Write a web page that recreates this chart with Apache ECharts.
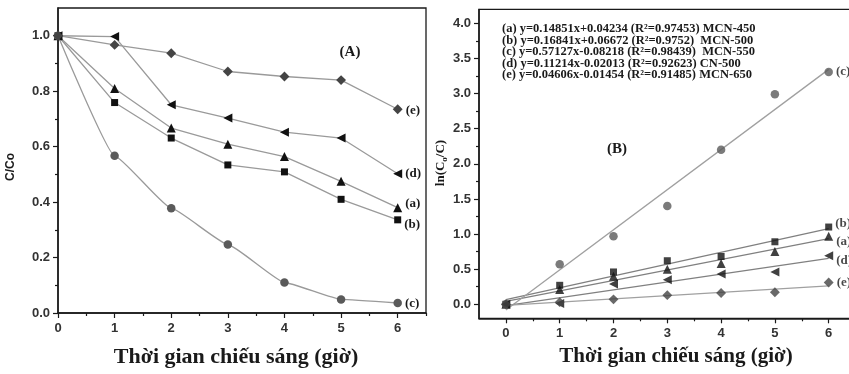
<!DOCTYPE html>
<html>
<head>
<meta charset="utf-8">
<script src="https://cdn.jsdelivr.net/npm/echarts@6/dist/echarts.min.js"></script>
<style>
  html, body { margin: 0; padding: 0; background: #fff; }
  #chart { width: 849px; height: 374px; }
</style>
</head>
<body>
<div id="chart"></div>
<script>
// Irradiation time (hours)
const hours = [0, 1, 2, 3, 4, 5, 6];

// Panel A: remaining fraction C/Co
const ratioA = [1.0, 0.810, 0.667, 0.609, 0.564, 0.475, 0.380];
const ratioB = [1.0, 0.759, 0.631, 0.534, 0.509, 0.410, 0.336];
const ratioC = [1.0, 0.567, 0.378, 0.247, 0.110, 0.049, 0.036];
const ratioD = [1.0, 0.997, 0.751, 0.703, 0.652, 0.631, 0.502];
const ratioE = [1.0, 0.967, 0.937, 0.871, 0.853, 0.840, 0.735];

// Panel B: ln(Co/C)
const lnA = [0, 0.21, 0.40, 0.50, 0.58, 0.75, 0.97];
const lnB = [0, 0.27, 0.46, 0.62, 0.68, 0.89, 1.10];
const lnC = [0, 0.57, 0.97, 1.40, 2.20, 2.99, 3.31];
const lnD = [0, 0.01, 0.29, 0.35, 0.43, 0.46, 0.69];
const lnE = [0, 0.03, 0.07, 0.13, 0.16, 0.17, 0.31];

// Linear fits of ln(Co/C) against time
const fitKeys = ['a', 'b', 'c', 'd', 'e'];
const fitSlope = [0.14851, 0.16841, 0.57127, 0.11214, 0.04606];
const fitIntercept = [0.04234, 0.06672, -0.08218, -0.02013, -0.01454];
const fitR2 = ['0.97453', '0.9752', '0.98439', '0.92623', '0.91485'];
const sampleNames = ['MCN-450', 'MCN-500', 'MCN-550', 'CN-500', 'MCN-650'];
const nameGap = [' ', '  ', '  ', ' ', ' '];

// Tick positions
const xMajor = [0, 1, 2, 3, 4, 5, 6];
const xMinor = [0.5, 1.5, 2.5, 3.5, 4.5, 5.5, 6.5];
const yMajorA = [0, 0.2, 0.4, 0.6, 0.8, 1.0];
const yMinorA = [0.1, 0.3, 0.5, 0.7, 0.9];
const yMajorB = [0, 0.5, 1.0, 1.5, 2.0, 2.5, 3.0, 3.5, 4.0];
const yMinorB = [0.25, 0.75, 1.25, 1.75, 2.25, 2.75, 3.25, 3.75];

const SERIF = "'Liberation Serif', 'Times New Roman', serif";
const SANS = "'Liberation Sans', Arial, sans-serif";
const INK = '#1a1a1a';

function axis(gi, min, max, ticks, tickLen, withLabels, margin, pos, fmt) {
  return {
    type: 'value', gridIndex: gi, min: min, max: max, position: pos,
    axisLine: { show: withLabels, onZero: false, lineStyle: { color: INK, width: 1.5 } },
    axisTick: { show: true, inside: false, length: tickLen, customValues: ticks,
                lineStyle: { color: INK, width: 1.2 } },
    axisLabel: { show: withLabels, customValues: ticks, margin: margin, color: '#333',
                 fontFamily: SANS, fontWeight: 'bold', fontSize: 13, formatter: fmt },
    splitLine: { show: false },
    minorTick: { show: false }
  };
}
const fmtInt = v => String(Math.round(v));
const fmt1 = v => v.toFixed(1);

// marker styles per sample
const markers = {
  a: { symbol: 'triangle', size: 9, rotate: 0, color: '#111' },
  b: { symbol: 'rect', size: 7, rotate: 0, color: '#111' },
  c: { symbol: 'circle', size: 8.5, rotate: 0, color: '#5a5a5a' },
  d: { symbol: 'triangle', size: 9, rotate: 90, color: '#111' },
  e: { symbol: 'rect', size: 7, rotate: 45, color: '#444' }
};

const labelShiftA = { a: [0, -4], b: [0, 5], c: [0, 1], d: [0, 0], e: [0, 1] };
const labelShiftB = { a: [0, 5], b: [0, -3], c: [0, 0], d: [0, 5], e: [0, 0] };

function endLabel(text, shift) {
  return { show: true, position: 'right', distance: 3, offset: shift,
           formatter: text, color: INK, fontFamily: SERIF, fontWeight: 'bold', fontSize: 13 };
}

function pointData(values, key, shift) {
  return hours.map((h, i) => {
    const item = { value: [h, values[i]] };
    if (i === hours.length - 1) item.label = endLabel('(' + key + ')', shift);
    return item;
  });
}

const ratioSets = { a: ratioA, b: ratioB, c: ratioC, d: ratioD, e: ratioE };
const lnSets = { a: lnA, b: lnB, c: lnC, d: lnD, e: lnE };

const series = [];

// Panel A: connected decay curves
fitKeys.forEach(k => {
  const m = markers[k];
  series.push({
    type: 'line', xAxisIndex: 0, yAxisIndex: 0,
    data: pointData(ratioSets[k], k, labelShiftA[k]),
    smooth: k === 'c' ? 0.12 : false,
    smoothMonotone: 'x',
    symbol: m.symbol, symbolSize: m.size, symbolRotate: m.rotate,
    showAllSymbol: true,
    lineStyle: { color: '#9a9a9a', width: 1.3 },
    itemStyle: { color: m.color },
    z: 3, animation: false
  });
});

// Panel B: fitted lines from the stated equations
fitKeys.forEach((k, i) => {
  series.push({
    type: 'line', xAxisIndex: 2, yAxisIndex: 2,
    data: [[0, fitIntercept[i]], [6, fitSlope[i] * 6 + fitIntercept[i]]],
    symbol: 'none',
    lineStyle: { color: k === 'c' || k === 'e' ? '#a0a0a0' : '#808080', width: 1.3 },
    z: 2, animation: false, silent: true
  });
});

// Panel B: measured points
fitKeys.forEach(k => {
  const m = markers[k];
  series.push({
    type: 'scatter', xAxisIndex: 2, yAxisIndex: 2,
    data: pointData(lnSets[k], k, labelShiftB[k]),
    symbol: m.symbol, symbolSize: m.size, symbolRotate: m.rotate,
    itemStyle: { color: m.color },
    z: 4, animation: false
  });
});

const eqText = fitKeys.map((k, i) => {
  const b = fitIntercept[i];
  const sign = b >= 0 ? '+' : '-';
  return '(' + k + ') y=' + fitSlope[i] + 'x' + sign + Math.abs(b) +
         ' (R\u00B2=' + fitR2[i] + ')' + nameGap[i] + sampleNames[i];
}).join('\n');

const xTitle = 'Thời gian chiếu sáng (giờ)';

const option = {
  animation: false,
  backgroundColor: '#ffffff',
  grid: [
    { left: 58, top: 8, width: 368, height: 305, show: true, borderColor: INK, borderWidth: 1.3,
      backgroundColor: 'transparent', containLabel: false, outerBoundsMode: 'none' },
    { left: 479, top: 9.4, width: 376.6, height: 308.9, show: true, borderColor: INK, borderWidth: 1.3,
      backgroundColor: 'transparent', containLabel: false, outerBoundsMode: 'none' }
  ],
  xAxis: [
    axis(0, 0, 6.5, xMajor, 5, true, 9, 'bottom', fmtInt),
    axis(0, 0, 6.5, xMinor, 3, false, 8, 'bottom', fmtInt),
    axis(1, -0.5, 6.5, xMajor, 5, true, 9, 'bottom', fmtInt),
    axis(1, -0.5, 6.5, xMinor, 3, false, 8, 'bottom', fmtInt)
  ],
  yAxis: [
    axis(0, 0, 1.1, yMajorA, 5, true, 8, 'left', fmt1),
    axis(0, 0, 1.1, yMinorA, 3, false, 8, 'left', fmt1),
    axis(1, -0.2, 4.2, yMajorB, 5, true, 8, 'left', fmt1),
    axis(1, -0.2, 4.2, yMinorB, 3, false, 8, 'left', fmt1)
  ],
  series: series,
  graphic: [
    { type: 'text', x: 236, y: 357, silent: true,
      style: { text: xTitle, align: 'center', verticalAlign: 'middle', fill: INK,
               font: 'bold 22px ' + SERIF } },
    { type: 'text', x: 676, y: 357, silent: true,
      style: { text: xTitle, align: 'center', verticalAlign: 'middle', fill: INK,
               font: 'bold 21px ' + SERIF } },
    { type: 'text', x: 11, y: 167, rotation: Math.PI / 2, silent: true,
      style: { text: 'C/Co', align: 'center', verticalAlign: 'middle', fill: INK,
               font: 'bold 12px ' + SANS } },
    { type: 'text', x: 441, y: 163, rotation: Math.PI / 2, silent: true,
      style: { text: '{m|ln(C}{s|o}{m|/C)}', align: 'center', verticalAlign: 'middle',
               rich: {
                 m: { fontFamily: SERIF, fontWeight: 'bold', fontSize: 13, fill: INK, lineHeight: 16 },
                 s: { fontFamily: SERIF, fontWeight: 'bold', fontSize: 9, fill: INK, lineHeight: 16,
                      verticalAlign: 'bottom' }
               } } },
    { type: 'text', x: 350, y: 52, silent: true,
      style: { text: '(A)', align: 'center', verticalAlign: 'middle', fill: INK,
               font: 'bold 15px ' + SERIF } },
    { type: 'text', x: 617, y: 149, silent: true,
      style: { text: '(B)', align: 'center', verticalAlign: 'middle', fill: INK,
               font: 'bold 15px ' + SERIF } },
    { type: 'text', x: 502, y: 23, silent: true,
      style: { text: eqText, align: 'left', verticalAlign: 'top', fill: INK,
               font: 'bold 12.5px ' + SERIF, lineHeight: 11.6 } }
  ]
};

const chart = echarts.init(document.getElementById('chart'), null, { renderer: 'canvas' });
chart.setOption(option);
</script>
</body>
</html>
